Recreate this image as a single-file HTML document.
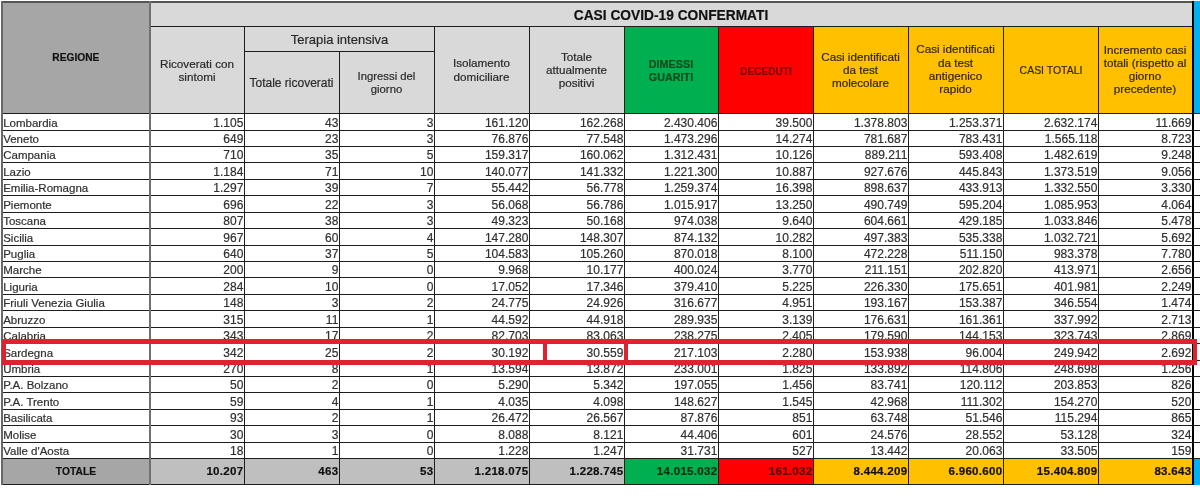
<!DOCTYPE html>
<html><head><meta charset="utf-8"><style>
html,body{margin:0;padding:0;background:#fff;}
body{width:1200px;height:502px;position:relative;overflow:hidden;font-family:"Liberation Sans",sans-serif;filter:blur(0.35px);}
div{position:absolute;}
.t{-webkit-text-stroke:0.2px currentColor;}
</style></head><body>
<div style="left:2px;top:1px;width:148px;height:112px;background:#a6a6a6;"></div>
<div style="left:150px;top:1px;width:1042px;height:112px;background:#d9d9d9;"></div>
<div style="left:624px;top:26px;width:94px;height:87px;background:#00b050;"></div>
<div style="left:718px;top:26px;width:95px;height:87px;background:#ff0000;"></div>
<div style="left:813px;top:26px;width:379px;height:87px;background:#ffc000;"></div>
<div style="left:1194px;top:1px;width:6px;height:113px;background:#00b0f0;"></div>
<div style="left:2px;top:458px;width:148px;height:26px;background:#a6a6a6;"></div>
<div style="left:150px;top:458px;width:474px;height:26px;background:#bfbfbf;"></div>
<div style="left:624px;top:458px;width:94px;height:26px;background:#00b050;"></div>
<div style="left:718px;top:458px;width:95px;height:26px;background:#ff0000;"></div>
<div style="left:813px;top:458px;width:379px;height:26px;background:#ffc000;"></div>
<div style="left:1194px;top:458px;width:6px;height:27px;background:#00b0f0;"></div>
<div style="left:1px;top:1px;width:1191px;height:2px;background:#555;"></div>
<div style="left:150px;top:26px;width:1042px;height:1px;background:#1e1e1e;"></div>
<div style="left:244px;top:51px;width:190px;height:1px;background:#1e1e1e;"></div>
<div style="left:2px;top:113px;width:1198px;height:1px;background:#1e1e1e;"></div>
<div style="left:2px;top:130px;width:1198px;height:1px;background:#1e1e1e;"></div>
<div style="left:2px;top:146px;width:1198px;height:1px;background:#1e1e1e;"></div>
<div style="left:2px;top:162px;width:1198px;height:1px;background:#1e1e1e;"></div>
<div style="left:2px;top:179px;width:1198px;height:1px;background:#1e1e1e;"></div>
<div style="left:2px;top:195px;width:1198px;height:1px;background:#1e1e1e;"></div>
<div style="left:2px;top:212px;width:1198px;height:1px;background:#1e1e1e;"></div>
<div style="left:2px;top:228px;width:1198px;height:1px;background:#1e1e1e;"></div>
<div style="left:2px;top:245px;width:1198px;height:1px;background:#1e1e1e;"></div>
<div style="left:2px;top:261px;width:1198px;height:1px;background:#1e1e1e;"></div>
<div style="left:2px;top:277px;width:1198px;height:1px;background:#1e1e1e;"></div>
<div style="left:2px;top:294px;width:1198px;height:1px;background:#1e1e1e;"></div>
<div style="left:2px;top:310px;width:1198px;height:1px;background:#1e1e1e;"></div>
<div style="left:2px;top:327px;width:1198px;height:1px;background:#1e1e1e;"></div>
<div style="left:2px;top:343px;width:1198px;height:1px;background:#1e1e1e;"></div>
<div style="left:2px;top:360px;width:1198px;height:1px;background:#1e1e1e;"></div>
<div style="left:2px;top:376px;width:1198px;height:1px;background:#1e1e1e;"></div>
<div style="left:2px;top:392px;width:1198px;height:1px;background:#1e1e1e;"></div>
<div style="left:2px;top:409px;width:1198px;height:1px;background:#1e1e1e;"></div>
<div style="left:2px;top:425px;width:1198px;height:1px;background:#1e1e1e;"></div>
<div style="left:2px;top:442px;width:1198px;height:1px;background:#1e1e1e;"></div>
<div style="left:2px;top:458px;width:1198px;height:1px;background:#1e1e1e;"></div>
<div style="left:2px;top:484px;width:1192px;height:1px;background:#1e1e1e;"></div>
<div style="left:1px;top:1px;width:2px;height:484px;background:#686868;"></div>
<div style="left:149px;top:1px;width:2px;height:484px;background:#707070;"></div>
<div style="left:244px;top:26px;width:1px;height:459px;background:#1e1e1e;"></div>
<div style="left:339px;top:51px;width:1px;height:434px;background:#1e1e1e;"></div>
<div style="left:434px;top:26px;width:1px;height:459px;background:#1e1e1e;"></div>
<div style="left:529px;top:26px;width:1px;height:459px;background:#1e1e1e;"></div>
<div style="left:624px;top:26px;width:1px;height:459px;background:#1e1e1e;"></div>
<div style="left:718px;top:26px;width:1px;height:459px;background:#1e1e1e;"></div>
<div style="left:813px;top:26px;width:1px;height:459px;background:#1e1e1e;"></div>
<div style="left:908px;top:26px;width:1px;height:459px;background:#1e1e1e;"></div>
<div style="left:1003px;top:26px;width:1px;height:459px;background:#1e1e1e;"></div>
<div style="left:1098px;top:26px;width:1px;height:459px;background:#1e1e1e;"></div>
<div style="left:1192px;top:1px;width:2px;height:484px;background:#000;"></div>
<div class="t" style="top:5.31px;height:20px;line-height:20px;font-size:14.4px;color:#111;font-weight:bold;left:521.00px;width:300px;text-align:center;white-space:nowrap;transform:scaleX(0.955);">CASI COVID-19 CONFERMATI</div>
<div class="t" style="top:47.67px;height:20px;line-height:20px;font-size:10.2px;color:#111;font-weight:bold;left:-74.20px;width:300px;text-align:center;white-space:nowrap;">REGIONE</div>
<div class="t" style="top:53.95px;height:20px;line-height:20px;font-size:11.7px;color:#2a2a2a;left:47.00px;width:300px;text-align:center;white-space:nowrap;">Ricoverati con</div>
<div class="t" style="top:66.55px;height:20px;line-height:20px;font-size:11.7px;color:#2a2a2a;left:47.00px;width:300px;text-align:center;white-space:nowrap;">sintomi</div>
<div class="t" style="top:29.80px;height:20px;line-height:20px;font-size:13px;color:#2a2a2a;left:189.50px;width:300px;text-align:center;white-space:nowrap;">Terapia intensiva</div>
<div class="t" style="top:73.14px;height:20px;line-height:20px;font-size:12px;color:#2a2a2a;left:141.50px;width:300px;text-align:center;white-space:nowrap;">Totale ricoverati</div>
<div class="t" style="top:65.58px;height:20px;line-height:20px;font-size:11.3px;color:#2a2a2a;left:236.50px;width:300px;text-align:center;white-space:nowrap;">Ingressi del</div>
<div class="t" style="top:78.98px;height:20px;line-height:20px;font-size:11.3px;color:#2a2a2a;left:236.50px;width:300px;text-align:center;white-space:nowrap;">giorno</div>
<div class="t" style="top:53.45px;height:20px;line-height:20px;font-size:11.7px;color:#2a2a2a;left:331.50px;width:300px;text-align:center;white-space:nowrap;">Isolamento</div>
<div class="t" style="top:66.55px;height:20px;line-height:20px;font-size:11.7px;color:#2a2a2a;left:331.50px;width:300px;text-align:center;white-space:nowrap;">domiciliare</div>
<div class="t" style="top:47.15px;height:20px;line-height:20px;font-size:11.7px;color:#2a2a2a;left:426.50px;width:300px;text-align:center;white-space:nowrap;">Totale</div>
<div class="t" style="top:60.25px;height:20px;line-height:20px;font-size:11.7px;color:#2a2a2a;left:426.50px;width:300px;text-align:center;white-space:nowrap;">attualmente</div>
<div class="t" style="top:73.35px;height:20px;line-height:20px;font-size:11.7px;color:#2a2a2a;left:426.50px;width:300px;text-align:center;white-space:nowrap;">positivi</div>
<div class="t" style="top:53.79px;height:20px;line-height:20px;font-size:11px;color:#0e4a1c;font-weight:bold;left:521.00px;width:300px;text-align:center;white-space:nowrap;transform:scaleX(0.98);">DIMESSI</div>
<div class="t" style="top:66.99px;height:20px;line-height:20px;font-size:11px;color:#0e4a1c;font-weight:bold;left:521.00px;width:300px;text-align:center;white-space:nowrap;transform:scaleX(0.98);">GUARITI</div>
<div class="t" style="top:60.99px;height:20px;line-height:20px;font-size:11px;color:#7a0000;font-weight:bold;left:615.50px;width:300px;text-align:center;white-space:nowrap;transform:scaleX(0.92);">DECEDUTI</div>
<div class="t" style="top:47.25px;height:20px;line-height:20px;font-size:11.7px;color:#33270a;left:710.50px;width:300px;text-align:center;white-space:nowrap;">Casi identificati</div>
<div class="t" style="top:60.35px;height:20px;line-height:20px;font-size:11.7px;color:#33270a;left:710.50px;width:300px;text-align:center;white-space:nowrap;">da test</div>
<div class="t" style="top:73.45px;height:20px;line-height:20px;font-size:11.7px;color:#33270a;left:710.50px;width:300px;text-align:center;white-space:nowrap;">molecolare</div>
<div class="t" style="top:39.25px;height:20px;line-height:20px;font-size:11.7px;color:#33270a;left:805.50px;width:300px;text-align:center;white-space:nowrap;">Casi identificati</div>
<div class="t" style="top:52.55px;height:20px;line-height:20px;font-size:11.7px;color:#33270a;left:805.50px;width:300px;text-align:center;white-space:nowrap;">da test</div>
<div class="t" style="top:65.85px;height:20px;line-height:20px;font-size:11.7px;color:#33270a;left:805.50px;width:300px;text-align:center;white-space:nowrap;">antigenico</div>
<div class="t" style="top:79.15px;height:20px;line-height:20px;font-size:11.7px;color:#33270a;left:805.50px;width:300px;text-align:center;white-space:nowrap;">rapido</div>
<div class="t" style="top:60.32px;height:20px;line-height:20px;font-size:11.5px;color:#33270a;left:900.50px;width:300px;text-align:center;white-space:nowrap;transform:scaleX(0.91);">CASI TOTALI</div>
<div class="t" style="top:39.55px;height:20px;line-height:20px;font-size:11.7px;color:#33270a;left:995.00px;width:300px;text-align:center;white-space:nowrap;">Incremento casi</div>
<div class="t" style="top:52.65px;height:20px;line-height:20px;font-size:11.7px;color:#33270a;left:995.00px;width:300px;text-align:center;white-space:nowrap;">totali (rispetto al</div>
<div class="t" style="top:65.75px;height:20px;line-height:20px;font-size:11.7px;color:#33270a;left:995.00px;width:300px;text-align:center;white-space:nowrap;">giorno</div>
<div class="t" style="top:78.85px;height:20px;line-height:20px;font-size:11.7px;color:#33270a;left:995.00px;width:300px;text-align:center;white-space:nowrap;">precedente)</div>
<div class="t" style="top:112.82px;height:20px;line-height:20px;font-size:11.5px;color:#303030;left:3.20px;white-space:nowrap;">Lombardia</div>
<div class="t" style="top:112.74px;height:20px;line-height:20px;font-size:12px;color:#303030;right:956.70px;text-align:right;white-space:nowrap;">1.105</div>
<div class="t" style="top:112.74px;height:20px;line-height:20px;font-size:12px;color:#303030;right:861.70px;text-align:right;white-space:nowrap;">43</div>
<div class="t" style="top:112.74px;height:20px;line-height:20px;font-size:12px;color:#303030;right:766.70px;text-align:right;white-space:nowrap;">3</div>
<div class="t" style="top:112.74px;height:20px;line-height:20px;font-size:12px;color:#303030;right:671.70px;text-align:right;white-space:nowrap;">161.120</div>
<div class="t" style="top:112.74px;height:20px;line-height:20px;font-size:12px;color:#303030;right:576.70px;text-align:right;white-space:nowrap;">162.268</div>
<div class="t" style="top:112.74px;height:20px;line-height:20px;font-size:12px;color:#303030;right:482.70px;text-align:right;white-space:nowrap;">2.430.406</div>
<div class="t" style="top:112.74px;height:20px;line-height:20px;font-size:12px;color:#303030;right:387.70px;text-align:right;white-space:nowrap;">39.500</div>
<div class="t" style="top:112.74px;height:20px;line-height:20px;font-size:12px;color:#303030;right:292.70px;text-align:right;white-space:nowrap;">1.378.803</div>
<div class="t" style="top:112.74px;height:20px;line-height:20px;font-size:12px;color:#303030;right:197.70px;text-align:right;white-space:nowrap;">1.253.371</div>
<div class="t" style="top:112.74px;height:20px;line-height:20px;font-size:12px;color:#303030;right:102.70px;text-align:right;white-space:nowrap;">2.632.174</div>
<div class="t" style="top:112.74px;height:20px;line-height:20px;font-size:12px;color:#303030;right:8.70px;text-align:right;white-space:nowrap;">11.669</div>
<div class="t" style="top:128.82px;height:20px;line-height:20px;font-size:11.5px;color:#303030;left:3.20px;white-space:nowrap;">Veneto</div>
<div class="t" style="top:128.74px;height:20px;line-height:20px;font-size:12px;color:#303030;right:956.70px;text-align:right;white-space:nowrap;">649</div>
<div class="t" style="top:128.74px;height:20px;line-height:20px;font-size:12px;color:#303030;right:861.70px;text-align:right;white-space:nowrap;">23</div>
<div class="t" style="top:128.74px;height:20px;line-height:20px;font-size:12px;color:#303030;right:766.70px;text-align:right;white-space:nowrap;">3</div>
<div class="t" style="top:128.74px;height:20px;line-height:20px;font-size:12px;color:#303030;right:671.70px;text-align:right;white-space:nowrap;">76.876</div>
<div class="t" style="top:128.74px;height:20px;line-height:20px;font-size:12px;color:#303030;right:576.70px;text-align:right;white-space:nowrap;">77.548</div>
<div class="t" style="top:128.74px;height:20px;line-height:20px;font-size:12px;color:#303030;right:482.70px;text-align:right;white-space:nowrap;">1.473.296</div>
<div class="t" style="top:128.74px;height:20px;line-height:20px;font-size:12px;color:#303030;right:387.70px;text-align:right;white-space:nowrap;">14.274</div>
<div class="t" style="top:128.74px;height:20px;line-height:20px;font-size:12px;color:#303030;right:292.70px;text-align:right;white-space:nowrap;">781.687</div>
<div class="t" style="top:128.74px;height:20px;line-height:20px;font-size:12px;color:#303030;right:197.70px;text-align:right;white-space:nowrap;">783.431</div>
<div class="t" style="top:128.74px;height:20px;line-height:20px;font-size:12px;color:#303030;right:102.70px;text-align:right;white-space:nowrap;">1.565.118</div>
<div class="t" style="top:128.74px;height:20px;line-height:20px;font-size:12px;color:#303030;right:8.70px;text-align:right;white-space:nowrap;">8.723</div>
<div class="t" style="top:144.82px;height:20px;line-height:20px;font-size:11.5px;color:#303030;left:3.20px;white-space:nowrap;">Campania</div>
<div class="t" style="top:144.74px;height:20px;line-height:20px;font-size:12px;color:#303030;right:956.70px;text-align:right;white-space:nowrap;">710</div>
<div class="t" style="top:144.74px;height:20px;line-height:20px;font-size:12px;color:#303030;right:861.70px;text-align:right;white-space:nowrap;">35</div>
<div class="t" style="top:144.74px;height:20px;line-height:20px;font-size:12px;color:#303030;right:766.70px;text-align:right;white-space:nowrap;">5</div>
<div class="t" style="top:144.74px;height:20px;line-height:20px;font-size:12px;color:#303030;right:671.70px;text-align:right;white-space:nowrap;">159.317</div>
<div class="t" style="top:144.74px;height:20px;line-height:20px;font-size:12px;color:#303030;right:576.70px;text-align:right;white-space:nowrap;">160.062</div>
<div class="t" style="top:144.74px;height:20px;line-height:20px;font-size:12px;color:#303030;right:482.70px;text-align:right;white-space:nowrap;">1.312.431</div>
<div class="t" style="top:144.74px;height:20px;line-height:20px;font-size:12px;color:#303030;right:387.70px;text-align:right;white-space:nowrap;">10.126</div>
<div class="t" style="top:144.74px;height:20px;line-height:20px;font-size:12px;color:#303030;right:292.70px;text-align:right;white-space:nowrap;">889.211</div>
<div class="t" style="top:144.74px;height:20px;line-height:20px;font-size:12px;color:#303030;right:197.70px;text-align:right;white-space:nowrap;">593.408</div>
<div class="t" style="top:144.74px;height:20px;line-height:20px;font-size:12px;color:#303030;right:102.70px;text-align:right;white-space:nowrap;">1.482.619</div>
<div class="t" style="top:144.74px;height:20px;line-height:20px;font-size:12px;color:#303030;right:8.70px;text-align:right;white-space:nowrap;">9.248</div>
<div class="t" style="top:161.82px;height:20px;line-height:20px;font-size:11.5px;color:#303030;left:3.20px;white-space:nowrap;">Lazio</div>
<div class="t" style="top:161.74px;height:20px;line-height:20px;font-size:12px;color:#303030;right:956.70px;text-align:right;white-space:nowrap;">1.184</div>
<div class="t" style="top:161.74px;height:20px;line-height:20px;font-size:12px;color:#303030;right:861.70px;text-align:right;white-space:nowrap;">71</div>
<div class="t" style="top:161.74px;height:20px;line-height:20px;font-size:12px;color:#303030;right:766.70px;text-align:right;white-space:nowrap;">10</div>
<div class="t" style="top:161.74px;height:20px;line-height:20px;font-size:12px;color:#303030;right:671.70px;text-align:right;white-space:nowrap;">140.077</div>
<div class="t" style="top:161.74px;height:20px;line-height:20px;font-size:12px;color:#303030;right:576.70px;text-align:right;white-space:nowrap;">141.332</div>
<div class="t" style="top:161.74px;height:20px;line-height:20px;font-size:12px;color:#303030;right:482.70px;text-align:right;white-space:nowrap;">1.221.300</div>
<div class="t" style="top:161.74px;height:20px;line-height:20px;font-size:12px;color:#303030;right:387.70px;text-align:right;white-space:nowrap;">10.887</div>
<div class="t" style="top:161.74px;height:20px;line-height:20px;font-size:12px;color:#303030;right:292.70px;text-align:right;white-space:nowrap;">927.676</div>
<div class="t" style="top:161.74px;height:20px;line-height:20px;font-size:12px;color:#303030;right:197.70px;text-align:right;white-space:nowrap;">445.843</div>
<div class="t" style="top:161.74px;height:20px;line-height:20px;font-size:12px;color:#303030;right:102.70px;text-align:right;white-space:nowrap;">1.373.519</div>
<div class="t" style="top:161.74px;height:20px;line-height:20px;font-size:12px;color:#303030;right:8.70px;text-align:right;white-space:nowrap;">9.056</div>
<div class="t" style="top:177.82px;height:20px;line-height:20px;font-size:11.5px;color:#303030;left:3.20px;white-space:nowrap;">Emilia-Romagna</div>
<div class="t" style="top:177.74px;height:20px;line-height:20px;font-size:12px;color:#303030;right:956.70px;text-align:right;white-space:nowrap;">1.297</div>
<div class="t" style="top:177.74px;height:20px;line-height:20px;font-size:12px;color:#303030;right:861.70px;text-align:right;white-space:nowrap;">39</div>
<div class="t" style="top:177.74px;height:20px;line-height:20px;font-size:12px;color:#303030;right:766.70px;text-align:right;white-space:nowrap;">7</div>
<div class="t" style="top:177.74px;height:20px;line-height:20px;font-size:12px;color:#303030;right:671.70px;text-align:right;white-space:nowrap;">55.442</div>
<div class="t" style="top:177.74px;height:20px;line-height:20px;font-size:12px;color:#303030;right:576.70px;text-align:right;white-space:nowrap;">56.778</div>
<div class="t" style="top:177.74px;height:20px;line-height:20px;font-size:12px;color:#303030;right:482.70px;text-align:right;white-space:nowrap;">1.259.374</div>
<div class="t" style="top:177.74px;height:20px;line-height:20px;font-size:12px;color:#303030;right:387.70px;text-align:right;white-space:nowrap;">16.398</div>
<div class="t" style="top:177.74px;height:20px;line-height:20px;font-size:12px;color:#303030;right:292.70px;text-align:right;white-space:nowrap;">898.637</div>
<div class="t" style="top:177.74px;height:20px;line-height:20px;font-size:12px;color:#303030;right:197.70px;text-align:right;white-space:nowrap;">433.913</div>
<div class="t" style="top:177.74px;height:20px;line-height:20px;font-size:12px;color:#303030;right:102.70px;text-align:right;white-space:nowrap;">1.332.550</div>
<div class="t" style="top:177.74px;height:20px;line-height:20px;font-size:12px;color:#303030;right:8.70px;text-align:right;white-space:nowrap;">3.330</div>
<div class="t" style="top:194.82px;height:20px;line-height:20px;font-size:11.5px;color:#303030;left:3.20px;white-space:nowrap;">Piemonte</div>
<div class="t" style="top:194.74px;height:20px;line-height:20px;font-size:12px;color:#303030;right:956.70px;text-align:right;white-space:nowrap;">696</div>
<div class="t" style="top:194.74px;height:20px;line-height:20px;font-size:12px;color:#303030;right:861.70px;text-align:right;white-space:nowrap;">22</div>
<div class="t" style="top:194.74px;height:20px;line-height:20px;font-size:12px;color:#303030;right:766.70px;text-align:right;white-space:nowrap;">3</div>
<div class="t" style="top:194.74px;height:20px;line-height:20px;font-size:12px;color:#303030;right:671.70px;text-align:right;white-space:nowrap;">56.068</div>
<div class="t" style="top:194.74px;height:20px;line-height:20px;font-size:12px;color:#303030;right:576.70px;text-align:right;white-space:nowrap;">56.786</div>
<div class="t" style="top:194.74px;height:20px;line-height:20px;font-size:12px;color:#303030;right:482.70px;text-align:right;white-space:nowrap;">1.015.917</div>
<div class="t" style="top:194.74px;height:20px;line-height:20px;font-size:12px;color:#303030;right:387.70px;text-align:right;white-space:nowrap;">13.250</div>
<div class="t" style="top:194.74px;height:20px;line-height:20px;font-size:12px;color:#303030;right:292.70px;text-align:right;white-space:nowrap;">490.749</div>
<div class="t" style="top:194.74px;height:20px;line-height:20px;font-size:12px;color:#303030;right:197.70px;text-align:right;white-space:nowrap;">595.204</div>
<div class="t" style="top:194.74px;height:20px;line-height:20px;font-size:12px;color:#303030;right:102.70px;text-align:right;white-space:nowrap;">1.085.953</div>
<div class="t" style="top:194.74px;height:20px;line-height:20px;font-size:12px;color:#303030;right:8.70px;text-align:right;white-space:nowrap;">4.064</div>
<div class="t" style="top:210.82px;height:20px;line-height:20px;font-size:11.5px;color:#303030;left:3.20px;white-space:nowrap;">Toscana</div>
<div class="t" style="top:210.74px;height:20px;line-height:20px;font-size:12px;color:#303030;right:956.70px;text-align:right;white-space:nowrap;">807</div>
<div class="t" style="top:210.74px;height:20px;line-height:20px;font-size:12px;color:#303030;right:861.70px;text-align:right;white-space:nowrap;">38</div>
<div class="t" style="top:210.74px;height:20px;line-height:20px;font-size:12px;color:#303030;right:766.70px;text-align:right;white-space:nowrap;">3</div>
<div class="t" style="top:210.74px;height:20px;line-height:20px;font-size:12px;color:#303030;right:671.70px;text-align:right;white-space:nowrap;">49.323</div>
<div class="t" style="top:210.74px;height:20px;line-height:20px;font-size:12px;color:#303030;right:576.70px;text-align:right;white-space:nowrap;">50.168</div>
<div class="t" style="top:210.74px;height:20px;line-height:20px;font-size:12px;color:#303030;right:482.70px;text-align:right;white-space:nowrap;">974.038</div>
<div class="t" style="top:210.74px;height:20px;line-height:20px;font-size:12px;color:#303030;right:387.70px;text-align:right;white-space:nowrap;">9.640</div>
<div class="t" style="top:210.74px;height:20px;line-height:20px;font-size:12px;color:#303030;right:292.70px;text-align:right;white-space:nowrap;">604.661</div>
<div class="t" style="top:210.74px;height:20px;line-height:20px;font-size:12px;color:#303030;right:197.70px;text-align:right;white-space:nowrap;">429.185</div>
<div class="t" style="top:210.74px;height:20px;line-height:20px;font-size:12px;color:#303030;right:102.70px;text-align:right;white-space:nowrap;">1.033.846</div>
<div class="t" style="top:210.74px;height:20px;line-height:20px;font-size:12px;color:#303030;right:8.70px;text-align:right;white-space:nowrap;">5.478</div>
<div class="t" style="top:227.82px;height:20px;line-height:20px;font-size:11.5px;color:#303030;left:3.20px;white-space:nowrap;">Sicilia</div>
<div class="t" style="top:227.74px;height:20px;line-height:20px;font-size:12px;color:#303030;right:956.70px;text-align:right;white-space:nowrap;">967</div>
<div class="t" style="top:227.74px;height:20px;line-height:20px;font-size:12px;color:#303030;right:861.70px;text-align:right;white-space:nowrap;">60</div>
<div class="t" style="top:227.74px;height:20px;line-height:20px;font-size:12px;color:#303030;right:766.70px;text-align:right;white-space:nowrap;">4</div>
<div class="t" style="top:227.74px;height:20px;line-height:20px;font-size:12px;color:#303030;right:671.70px;text-align:right;white-space:nowrap;">147.280</div>
<div class="t" style="top:227.74px;height:20px;line-height:20px;font-size:12px;color:#303030;right:576.70px;text-align:right;white-space:nowrap;">148.307</div>
<div class="t" style="top:227.74px;height:20px;line-height:20px;font-size:12px;color:#303030;right:482.70px;text-align:right;white-space:nowrap;">874.132</div>
<div class="t" style="top:227.74px;height:20px;line-height:20px;font-size:12px;color:#303030;right:387.70px;text-align:right;white-space:nowrap;">10.282</div>
<div class="t" style="top:227.74px;height:20px;line-height:20px;font-size:12px;color:#303030;right:292.70px;text-align:right;white-space:nowrap;">497.383</div>
<div class="t" style="top:227.74px;height:20px;line-height:20px;font-size:12px;color:#303030;right:197.70px;text-align:right;white-space:nowrap;">535.338</div>
<div class="t" style="top:227.74px;height:20px;line-height:20px;font-size:12px;color:#303030;right:102.70px;text-align:right;white-space:nowrap;">1.032.721</div>
<div class="t" style="top:227.74px;height:20px;line-height:20px;font-size:12px;color:#303030;right:8.70px;text-align:right;white-space:nowrap;">5.692</div>
<div class="t" style="top:243.82px;height:20px;line-height:20px;font-size:11.5px;color:#303030;left:3.20px;white-space:nowrap;">Puglia</div>
<div class="t" style="top:243.74px;height:20px;line-height:20px;font-size:12px;color:#303030;right:956.70px;text-align:right;white-space:nowrap;">640</div>
<div class="t" style="top:243.74px;height:20px;line-height:20px;font-size:12px;color:#303030;right:861.70px;text-align:right;white-space:nowrap;">37</div>
<div class="t" style="top:243.74px;height:20px;line-height:20px;font-size:12px;color:#303030;right:766.70px;text-align:right;white-space:nowrap;">5</div>
<div class="t" style="top:243.74px;height:20px;line-height:20px;font-size:12px;color:#303030;right:671.70px;text-align:right;white-space:nowrap;">104.583</div>
<div class="t" style="top:243.74px;height:20px;line-height:20px;font-size:12px;color:#303030;right:576.70px;text-align:right;white-space:nowrap;">105.260</div>
<div class="t" style="top:243.74px;height:20px;line-height:20px;font-size:12px;color:#303030;right:482.70px;text-align:right;white-space:nowrap;">870.018</div>
<div class="t" style="top:243.74px;height:20px;line-height:20px;font-size:12px;color:#303030;right:387.70px;text-align:right;white-space:nowrap;">8.100</div>
<div class="t" style="top:243.74px;height:20px;line-height:20px;font-size:12px;color:#303030;right:292.70px;text-align:right;white-space:nowrap;">472.228</div>
<div class="t" style="top:243.74px;height:20px;line-height:20px;font-size:12px;color:#303030;right:197.70px;text-align:right;white-space:nowrap;">511.150</div>
<div class="t" style="top:243.74px;height:20px;line-height:20px;font-size:12px;color:#303030;right:102.70px;text-align:right;white-space:nowrap;">983.378</div>
<div class="t" style="top:243.74px;height:20px;line-height:20px;font-size:12px;color:#303030;right:8.70px;text-align:right;white-space:nowrap;">7.780</div>
<div class="t" style="top:259.82px;height:20px;line-height:20px;font-size:11.5px;color:#303030;left:3.20px;white-space:nowrap;">Marche</div>
<div class="t" style="top:259.74px;height:20px;line-height:20px;font-size:12px;color:#303030;right:956.70px;text-align:right;white-space:nowrap;">200</div>
<div class="t" style="top:259.74px;height:20px;line-height:20px;font-size:12px;color:#303030;right:861.70px;text-align:right;white-space:nowrap;">9</div>
<div class="t" style="top:259.74px;height:20px;line-height:20px;font-size:12px;color:#303030;right:766.70px;text-align:right;white-space:nowrap;">0</div>
<div class="t" style="top:259.74px;height:20px;line-height:20px;font-size:12px;color:#303030;right:671.70px;text-align:right;white-space:nowrap;">9.968</div>
<div class="t" style="top:259.74px;height:20px;line-height:20px;font-size:12px;color:#303030;right:576.70px;text-align:right;white-space:nowrap;">10.177</div>
<div class="t" style="top:259.74px;height:20px;line-height:20px;font-size:12px;color:#303030;right:482.70px;text-align:right;white-space:nowrap;">400.024</div>
<div class="t" style="top:259.74px;height:20px;line-height:20px;font-size:12px;color:#303030;right:387.70px;text-align:right;white-space:nowrap;">3.770</div>
<div class="t" style="top:259.74px;height:20px;line-height:20px;font-size:12px;color:#303030;right:292.70px;text-align:right;white-space:nowrap;">211.151</div>
<div class="t" style="top:259.74px;height:20px;line-height:20px;font-size:12px;color:#303030;right:197.70px;text-align:right;white-space:nowrap;">202.820</div>
<div class="t" style="top:259.74px;height:20px;line-height:20px;font-size:12px;color:#303030;right:102.70px;text-align:right;white-space:nowrap;">413.971</div>
<div class="t" style="top:259.74px;height:20px;line-height:20px;font-size:12px;color:#303030;right:8.70px;text-align:right;white-space:nowrap;">2.656</div>
<div class="t" style="top:276.82px;height:20px;line-height:20px;font-size:11.5px;color:#303030;left:3.20px;white-space:nowrap;">Liguria</div>
<div class="t" style="top:276.74px;height:20px;line-height:20px;font-size:12px;color:#303030;right:956.70px;text-align:right;white-space:nowrap;">284</div>
<div class="t" style="top:276.74px;height:20px;line-height:20px;font-size:12px;color:#303030;right:861.70px;text-align:right;white-space:nowrap;">10</div>
<div class="t" style="top:276.74px;height:20px;line-height:20px;font-size:12px;color:#303030;right:766.70px;text-align:right;white-space:nowrap;">0</div>
<div class="t" style="top:276.74px;height:20px;line-height:20px;font-size:12px;color:#303030;right:671.70px;text-align:right;white-space:nowrap;">17.052</div>
<div class="t" style="top:276.74px;height:20px;line-height:20px;font-size:12px;color:#303030;right:576.70px;text-align:right;white-space:nowrap;">17.346</div>
<div class="t" style="top:276.74px;height:20px;line-height:20px;font-size:12px;color:#303030;right:482.70px;text-align:right;white-space:nowrap;">379.410</div>
<div class="t" style="top:276.74px;height:20px;line-height:20px;font-size:12px;color:#303030;right:387.70px;text-align:right;white-space:nowrap;">5.225</div>
<div class="t" style="top:276.74px;height:20px;line-height:20px;font-size:12px;color:#303030;right:292.70px;text-align:right;white-space:nowrap;">226.330</div>
<div class="t" style="top:276.74px;height:20px;line-height:20px;font-size:12px;color:#303030;right:197.70px;text-align:right;white-space:nowrap;">175.651</div>
<div class="t" style="top:276.74px;height:20px;line-height:20px;font-size:12px;color:#303030;right:102.70px;text-align:right;white-space:nowrap;">401.981</div>
<div class="t" style="top:276.74px;height:20px;line-height:20px;font-size:12px;color:#303030;right:8.70px;text-align:right;white-space:nowrap;">2.249</div>
<div class="t" style="top:292.82px;height:20px;line-height:20px;font-size:11.5px;color:#303030;left:3.20px;white-space:nowrap;">Friuli Venezia Giulia</div>
<div class="t" style="top:292.74px;height:20px;line-height:20px;font-size:12px;color:#303030;right:956.70px;text-align:right;white-space:nowrap;">148</div>
<div class="t" style="top:292.74px;height:20px;line-height:20px;font-size:12px;color:#303030;right:861.70px;text-align:right;white-space:nowrap;">3</div>
<div class="t" style="top:292.74px;height:20px;line-height:20px;font-size:12px;color:#303030;right:766.70px;text-align:right;white-space:nowrap;">2</div>
<div class="t" style="top:292.74px;height:20px;line-height:20px;font-size:12px;color:#303030;right:671.70px;text-align:right;white-space:nowrap;">24.775</div>
<div class="t" style="top:292.74px;height:20px;line-height:20px;font-size:12px;color:#303030;right:576.70px;text-align:right;white-space:nowrap;">24.926</div>
<div class="t" style="top:292.74px;height:20px;line-height:20px;font-size:12px;color:#303030;right:482.70px;text-align:right;white-space:nowrap;">316.677</div>
<div class="t" style="top:292.74px;height:20px;line-height:20px;font-size:12px;color:#303030;right:387.70px;text-align:right;white-space:nowrap;">4.951</div>
<div class="t" style="top:292.74px;height:20px;line-height:20px;font-size:12px;color:#303030;right:292.70px;text-align:right;white-space:nowrap;">193.167</div>
<div class="t" style="top:292.74px;height:20px;line-height:20px;font-size:12px;color:#303030;right:197.70px;text-align:right;white-space:nowrap;">153.387</div>
<div class="t" style="top:292.74px;height:20px;line-height:20px;font-size:12px;color:#303030;right:102.70px;text-align:right;white-space:nowrap;">346.554</div>
<div class="t" style="top:292.74px;height:20px;line-height:20px;font-size:12px;color:#303030;right:8.70px;text-align:right;white-space:nowrap;">1.474</div>
<div class="t" style="top:309.82px;height:20px;line-height:20px;font-size:11.5px;color:#303030;left:3.20px;white-space:nowrap;">Abruzzo</div>
<div class="t" style="top:309.74px;height:20px;line-height:20px;font-size:12px;color:#303030;right:956.70px;text-align:right;white-space:nowrap;">315</div>
<div class="t" style="top:309.74px;height:20px;line-height:20px;font-size:12px;color:#303030;right:861.70px;text-align:right;white-space:nowrap;">11</div>
<div class="t" style="top:309.74px;height:20px;line-height:20px;font-size:12px;color:#303030;right:766.70px;text-align:right;white-space:nowrap;">1</div>
<div class="t" style="top:309.74px;height:20px;line-height:20px;font-size:12px;color:#303030;right:671.70px;text-align:right;white-space:nowrap;">44.592</div>
<div class="t" style="top:309.74px;height:20px;line-height:20px;font-size:12px;color:#303030;right:576.70px;text-align:right;white-space:nowrap;">44.918</div>
<div class="t" style="top:309.74px;height:20px;line-height:20px;font-size:12px;color:#303030;right:482.70px;text-align:right;white-space:nowrap;">289.935</div>
<div class="t" style="top:309.74px;height:20px;line-height:20px;font-size:12px;color:#303030;right:387.70px;text-align:right;white-space:nowrap;">3.139</div>
<div class="t" style="top:309.74px;height:20px;line-height:20px;font-size:12px;color:#303030;right:292.70px;text-align:right;white-space:nowrap;">176.631</div>
<div class="t" style="top:309.74px;height:20px;line-height:20px;font-size:12px;color:#303030;right:197.70px;text-align:right;white-space:nowrap;">161.361</div>
<div class="t" style="top:309.74px;height:20px;line-height:20px;font-size:12px;color:#303030;right:102.70px;text-align:right;white-space:nowrap;">337.992</div>
<div class="t" style="top:309.74px;height:20px;line-height:20px;font-size:12px;color:#303030;right:8.70px;text-align:right;white-space:nowrap;">2.713</div>
<div class="t" style="top:325.82px;height:20px;line-height:20px;font-size:11.5px;color:#303030;left:3.20px;white-space:nowrap;">Calabria</div>
<div class="t" style="top:325.74px;height:20px;line-height:20px;font-size:12px;color:#303030;right:956.70px;text-align:right;white-space:nowrap;">343</div>
<div class="t" style="top:325.74px;height:20px;line-height:20px;font-size:12px;color:#303030;right:861.70px;text-align:right;white-space:nowrap;">17</div>
<div class="t" style="top:325.74px;height:20px;line-height:20px;font-size:12px;color:#303030;right:766.70px;text-align:right;white-space:nowrap;">2</div>
<div class="t" style="top:325.74px;height:20px;line-height:20px;font-size:12px;color:#303030;right:671.70px;text-align:right;white-space:nowrap;">82.703</div>
<div class="t" style="top:325.74px;height:20px;line-height:20px;font-size:12px;color:#303030;right:576.70px;text-align:right;white-space:nowrap;">83.063</div>
<div class="t" style="top:325.74px;height:20px;line-height:20px;font-size:12px;color:#303030;right:482.70px;text-align:right;white-space:nowrap;">238.275</div>
<div class="t" style="top:325.74px;height:20px;line-height:20px;font-size:12px;color:#303030;right:387.70px;text-align:right;white-space:nowrap;">2.405</div>
<div class="t" style="top:325.74px;height:20px;line-height:20px;font-size:12px;color:#303030;right:292.70px;text-align:right;white-space:nowrap;">179.590</div>
<div class="t" style="top:325.74px;height:20px;line-height:20px;font-size:12px;color:#303030;right:197.70px;text-align:right;white-space:nowrap;">144.153</div>
<div class="t" style="top:325.74px;height:20px;line-height:20px;font-size:12px;color:#303030;right:102.70px;text-align:right;white-space:nowrap;">323.743</div>
<div class="t" style="top:325.74px;height:20px;line-height:20px;font-size:12px;color:#303030;right:8.70px;text-align:right;white-space:nowrap;">2.869</div>
<div class="t" style="top:342.82px;height:20px;line-height:20px;font-size:11.5px;color:#303030;left:3.20px;white-space:nowrap;">Sardegna</div>
<div class="t" style="top:342.74px;height:20px;line-height:20px;font-size:12px;color:#303030;right:956.70px;text-align:right;white-space:nowrap;">342</div>
<div class="t" style="top:342.74px;height:20px;line-height:20px;font-size:12px;color:#303030;right:861.70px;text-align:right;white-space:nowrap;">25</div>
<div class="t" style="top:342.74px;height:20px;line-height:20px;font-size:12px;color:#303030;right:766.70px;text-align:right;white-space:nowrap;">2</div>
<div class="t" style="top:342.74px;height:20px;line-height:20px;font-size:12px;color:#303030;right:671.70px;text-align:right;white-space:nowrap;">30.192</div>
<div class="t" style="top:342.74px;height:20px;line-height:20px;font-size:12px;color:#303030;right:576.70px;text-align:right;white-space:nowrap;">30.559</div>
<div class="t" style="top:342.74px;height:20px;line-height:20px;font-size:12px;color:#303030;right:482.70px;text-align:right;white-space:nowrap;">217.103</div>
<div class="t" style="top:342.74px;height:20px;line-height:20px;font-size:12px;color:#303030;right:387.70px;text-align:right;white-space:nowrap;">2.280</div>
<div class="t" style="top:342.74px;height:20px;line-height:20px;font-size:12px;color:#303030;right:292.70px;text-align:right;white-space:nowrap;">153.938</div>
<div class="t" style="top:342.74px;height:20px;line-height:20px;font-size:12px;color:#303030;right:197.70px;text-align:right;white-space:nowrap;">96.004</div>
<div class="t" style="top:342.74px;height:20px;line-height:20px;font-size:12px;color:#303030;right:102.70px;text-align:right;white-space:nowrap;">249.942</div>
<div class="t" style="top:342.74px;height:20px;line-height:20px;font-size:12px;color:#303030;right:8.70px;text-align:right;white-space:nowrap;">2.692</div>
<div class="t" style="top:358.82px;height:20px;line-height:20px;font-size:11.5px;color:#303030;left:3.20px;white-space:nowrap;">Umbria</div>
<div class="t" style="top:358.74px;height:20px;line-height:20px;font-size:12px;color:#303030;right:956.70px;text-align:right;white-space:nowrap;">270</div>
<div class="t" style="top:358.74px;height:20px;line-height:20px;font-size:12px;color:#303030;right:861.70px;text-align:right;white-space:nowrap;">8</div>
<div class="t" style="top:358.74px;height:20px;line-height:20px;font-size:12px;color:#303030;right:766.70px;text-align:right;white-space:nowrap;">1</div>
<div class="t" style="top:358.74px;height:20px;line-height:20px;font-size:12px;color:#303030;right:671.70px;text-align:right;white-space:nowrap;">13.594</div>
<div class="t" style="top:358.74px;height:20px;line-height:20px;font-size:12px;color:#303030;right:576.70px;text-align:right;white-space:nowrap;">13.872</div>
<div class="t" style="top:358.74px;height:20px;line-height:20px;font-size:12px;color:#303030;right:482.70px;text-align:right;white-space:nowrap;">233.001</div>
<div class="t" style="top:358.74px;height:20px;line-height:20px;font-size:12px;color:#303030;right:387.70px;text-align:right;white-space:nowrap;">1.825</div>
<div class="t" style="top:358.74px;height:20px;line-height:20px;font-size:12px;color:#303030;right:292.70px;text-align:right;white-space:nowrap;">133.892</div>
<div class="t" style="top:358.74px;height:20px;line-height:20px;font-size:12px;color:#303030;right:197.70px;text-align:right;white-space:nowrap;">114.806</div>
<div class="t" style="top:358.74px;height:20px;line-height:20px;font-size:12px;color:#303030;right:102.70px;text-align:right;white-space:nowrap;">248.698</div>
<div class="t" style="top:358.74px;height:20px;line-height:20px;font-size:12px;color:#303030;right:8.70px;text-align:right;white-space:nowrap;">1.256</div>
<div class="t" style="top:374.82px;height:20px;line-height:20px;font-size:11.5px;color:#303030;left:3.20px;white-space:nowrap;">P.A. Bolzano</div>
<div class="t" style="top:374.74px;height:20px;line-height:20px;font-size:12px;color:#303030;right:956.70px;text-align:right;white-space:nowrap;">50</div>
<div class="t" style="top:374.74px;height:20px;line-height:20px;font-size:12px;color:#303030;right:861.70px;text-align:right;white-space:nowrap;">2</div>
<div class="t" style="top:374.74px;height:20px;line-height:20px;font-size:12px;color:#303030;right:766.70px;text-align:right;white-space:nowrap;">0</div>
<div class="t" style="top:374.74px;height:20px;line-height:20px;font-size:12px;color:#303030;right:671.70px;text-align:right;white-space:nowrap;">5.290</div>
<div class="t" style="top:374.74px;height:20px;line-height:20px;font-size:12px;color:#303030;right:576.70px;text-align:right;white-space:nowrap;">5.342</div>
<div class="t" style="top:374.74px;height:20px;line-height:20px;font-size:12px;color:#303030;right:482.70px;text-align:right;white-space:nowrap;">197.055</div>
<div class="t" style="top:374.74px;height:20px;line-height:20px;font-size:12px;color:#303030;right:387.70px;text-align:right;white-space:nowrap;">1.456</div>
<div class="t" style="top:374.74px;height:20px;line-height:20px;font-size:12px;color:#303030;right:292.70px;text-align:right;white-space:nowrap;">83.741</div>
<div class="t" style="top:374.74px;height:20px;line-height:20px;font-size:12px;color:#303030;right:197.70px;text-align:right;white-space:nowrap;">120.112</div>
<div class="t" style="top:374.74px;height:20px;line-height:20px;font-size:12px;color:#303030;right:102.70px;text-align:right;white-space:nowrap;">203.853</div>
<div class="t" style="top:374.74px;height:20px;line-height:20px;font-size:12px;color:#303030;right:8.70px;text-align:right;white-space:nowrap;">826</div>
<div class="t" style="top:391.82px;height:20px;line-height:20px;font-size:11.5px;color:#303030;left:3.20px;white-space:nowrap;">P.A. Trento</div>
<div class="t" style="top:391.74px;height:20px;line-height:20px;font-size:12px;color:#303030;right:956.70px;text-align:right;white-space:nowrap;">59</div>
<div class="t" style="top:391.74px;height:20px;line-height:20px;font-size:12px;color:#303030;right:861.70px;text-align:right;white-space:nowrap;">4</div>
<div class="t" style="top:391.74px;height:20px;line-height:20px;font-size:12px;color:#303030;right:766.70px;text-align:right;white-space:nowrap;">1</div>
<div class="t" style="top:391.74px;height:20px;line-height:20px;font-size:12px;color:#303030;right:671.70px;text-align:right;white-space:nowrap;">4.035</div>
<div class="t" style="top:391.74px;height:20px;line-height:20px;font-size:12px;color:#303030;right:576.70px;text-align:right;white-space:nowrap;">4.098</div>
<div class="t" style="top:391.74px;height:20px;line-height:20px;font-size:12px;color:#303030;right:482.70px;text-align:right;white-space:nowrap;">148.627</div>
<div class="t" style="top:391.74px;height:20px;line-height:20px;font-size:12px;color:#303030;right:387.70px;text-align:right;white-space:nowrap;">1.545</div>
<div class="t" style="top:391.74px;height:20px;line-height:20px;font-size:12px;color:#303030;right:292.70px;text-align:right;white-space:nowrap;">42.968</div>
<div class="t" style="top:391.74px;height:20px;line-height:20px;font-size:12px;color:#303030;right:197.70px;text-align:right;white-space:nowrap;">111.302</div>
<div class="t" style="top:391.74px;height:20px;line-height:20px;font-size:12px;color:#303030;right:102.70px;text-align:right;white-space:nowrap;">154.270</div>
<div class="t" style="top:391.74px;height:20px;line-height:20px;font-size:12px;color:#303030;right:8.70px;text-align:right;white-space:nowrap;">520</div>
<div class="t" style="top:407.82px;height:20px;line-height:20px;font-size:11.5px;color:#303030;left:3.20px;white-space:nowrap;">Basilicata</div>
<div class="t" style="top:407.74px;height:20px;line-height:20px;font-size:12px;color:#303030;right:956.70px;text-align:right;white-space:nowrap;">93</div>
<div class="t" style="top:407.74px;height:20px;line-height:20px;font-size:12px;color:#303030;right:861.70px;text-align:right;white-space:nowrap;">2</div>
<div class="t" style="top:407.74px;height:20px;line-height:20px;font-size:12px;color:#303030;right:766.70px;text-align:right;white-space:nowrap;">1</div>
<div class="t" style="top:407.74px;height:20px;line-height:20px;font-size:12px;color:#303030;right:671.70px;text-align:right;white-space:nowrap;">26.472</div>
<div class="t" style="top:407.74px;height:20px;line-height:20px;font-size:12px;color:#303030;right:576.70px;text-align:right;white-space:nowrap;">26.567</div>
<div class="t" style="top:407.74px;height:20px;line-height:20px;font-size:12px;color:#303030;right:482.70px;text-align:right;white-space:nowrap;">87.876</div>
<div class="t" style="top:407.74px;height:20px;line-height:20px;font-size:12px;color:#303030;right:387.70px;text-align:right;white-space:nowrap;">851</div>
<div class="t" style="top:407.74px;height:20px;line-height:20px;font-size:12px;color:#303030;right:292.70px;text-align:right;white-space:nowrap;">63.748</div>
<div class="t" style="top:407.74px;height:20px;line-height:20px;font-size:12px;color:#303030;right:197.70px;text-align:right;white-space:nowrap;">51.546</div>
<div class="t" style="top:407.74px;height:20px;line-height:20px;font-size:12px;color:#303030;right:102.70px;text-align:right;white-space:nowrap;">115.294</div>
<div class="t" style="top:407.74px;height:20px;line-height:20px;font-size:12px;color:#303030;right:8.70px;text-align:right;white-space:nowrap;">865</div>
<div class="t" style="top:424.82px;height:20px;line-height:20px;font-size:11.5px;color:#303030;left:3.20px;white-space:nowrap;">Molise</div>
<div class="t" style="top:424.74px;height:20px;line-height:20px;font-size:12px;color:#303030;right:956.70px;text-align:right;white-space:nowrap;">30</div>
<div class="t" style="top:424.74px;height:20px;line-height:20px;font-size:12px;color:#303030;right:861.70px;text-align:right;white-space:nowrap;">3</div>
<div class="t" style="top:424.74px;height:20px;line-height:20px;font-size:12px;color:#303030;right:766.70px;text-align:right;white-space:nowrap;">0</div>
<div class="t" style="top:424.74px;height:20px;line-height:20px;font-size:12px;color:#303030;right:671.70px;text-align:right;white-space:nowrap;">8.088</div>
<div class="t" style="top:424.74px;height:20px;line-height:20px;font-size:12px;color:#303030;right:576.70px;text-align:right;white-space:nowrap;">8.121</div>
<div class="t" style="top:424.74px;height:20px;line-height:20px;font-size:12px;color:#303030;right:482.70px;text-align:right;white-space:nowrap;">44.406</div>
<div class="t" style="top:424.74px;height:20px;line-height:20px;font-size:12px;color:#303030;right:387.70px;text-align:right;white-space:nowrap;">601</div>
<div class="t" style="top:424.74px;height:20px;line-height:20px;font-size:12px;color:#303030;right:292.70px;text-align:right;white-space:nowrap;">24.576</div>
<div class="t" style="top:424.74px;height:20px;line-height:20px;font-size:12px;color:#303030;right:197.70px;text-align:right;white-space:nowrap;">28.552</div>
<div class="t" style="top:424.74px;height:20px;line-height:20px;font-size:12px;color:#303030;right:102.70px;text-align:right;white-space:nowrap;">53.128</div>
<div class="t" style="top:424.74px;height:20px;line-height:20px;font-size:12px;color:#303030;right:8.70px;text-align:right;white-space:nowrap;">324</div>
<div class="t" style="top:440.82px;height:20px;line-height:20px;font-size:11.5px;color:#303030;left:3.20px;white-space:nowrap;">Valle d'Aosta</div>
<div class="t" style="top:440.74px;height:20px;line-height:20px;font-size:12px;color:#303030;right:956.70px;text-align:right;white-space:nowrap;">18</div>
<div class="t" style="top:440.74px;height:20px;line-height:20px;font-size:12px;color:#303030;right:861.70px;text-align:right;white-space:nowrap;">1</div>
<div class="t" style="top:440.74px;height:20px;line-height:20px;font-size:12px;color:#303030;right:766.70px;text-align:right;white-space:nowrap;">0</div>
<div class="t" style="top:440.74px;height:20px;line-height:20px;font-size:12px;color:#303030;right:671.70px;text-align:right;white-space:nowrap;">1.228</div>
<div class="t" style="top:440.74px;height:20px;line-height:20px;font-size:12px;color:#303030;right:576.70px;text-align:right;white-space:nowrap;">1.247</div>
<div class="t" style="top:440.74px;height:20px;line-height:20px;font-size:12px;color:#303030;right:482.70px;text-align:right;white-space:nowrap;">31.731</div>
<div class="t" style="top:440.74px;height:20px;line-height:20px;font-size:12px;color:#303030;right:387.70px;text-align:right;white-space:nowrap;">527</div>
<div class="t" style="top:440.74px;height:20px;line-height:20px;font-size:12px;color:#303030;right:292.70px;text-align:right;white-space:nowrap;">13.442</div>
<div class="t" style="top:440.74px;height:20px;line-height:20px;font-size:12px;color:#303030;right:197.70px;text-align:right;white-space:nowrap;">20.063</div>
<div class="t" style="top:440.74px;height:20px;line-height:20px;font-size:12px;color:#303030;right:102.70px;text-align:right;white-space:nowrap;">33.505</div>
<div class="t" style="top:440.74px;height:20px;line-height:20px;font-size:12px;color:#303030;right:8.70px;text-align:right;white-space:nowrap;">159</div>
<div class="t" style="top:461.87px;height:20px;line-height:20px;font-size:10.2px;color:#111;font-weight:bold;letter-spacing:0.1px;left:-74.00px;width:300px;text-align:center;white-space:nowrap;">TOTALE</div>
<div class="t" style="top:461.42px;height:20px;line-height:20px;font-size:11.5px;color:#111;font-weight:bold;letter-spacing:0.3px;right:956.60px;text-align:right;white-space:nowrap;">10.207</div>
<div class="t" style="top:461.42px;height:20px;line-height:20px;font-size:11.5px;color:#111;font-weight:bold;letter-spacing:0.3px;right:861.60px;text-align:right;white-space:nowrap;">463</div>
<div class="t" style="top:461.42px;height:20px;line-height:20px;font-size:11.5px;color:#111;font-weight:bold;letter-spacing:0.3px;right:766.60px;text-align:right;white-space:nowrap;">53</div>
<div class="t" style="top:461.42px;height:20px;line-height:20px;font-size:11.5px;color:#111;font-weight:bold;letter-spacing:0.3px;right:671.60px;text-align:right;white-space:nowrap;">1.218.075</div>
<div class="t" style="top:461.42px;height:20px;line-height:20px;font-size:11.5px;color:#111;font-weight:bold;letter-spacing:0.3px;right:576.60px;text-align:right;white-space:nowrap;">1.228.745</div>
<div class="t" style="top:461.42px;height:20px;line-height:20px;font-size:11.5px;color:#0a3010;font-weight:bold;letter-spacing:0.3px;right:482.60px;text-align:right;white-space:nowrap;">14.015.032</div>
<div class="t" style="top:461.42px;height:20px;line-height:20px;font-size:11.5px;color:#600000;font-weight:bold;letter-spacing:0.3px;right:387.60px;text-align:right;white-space:nowrap;">161.032</div>
<div class="t" style="top:461.42px;height:20px;line-height:20px;font-size:11.5px;color:#111;font-weight:bold;letter-spacing:0.3px;right:292.60px;text-align:right;white-space:nowrap;">8.444.209</div>
<div class="t" style="top:461.42px;height:20px;line-height:20px;font-size:11.5px;color:#111;font-weight:bold;letter-spacing:0.3px;right:197.60px;text-align:right;white-space:nowrap;">6.960.600</div>
<div class="t" style="top:461.42px;height:20px;line-height:20px;font-size:11.5px;color:#111;font-weight:bold;letter-spacing:0.3px;right:102.60px;text-align:right;white-space:nowrap;">15.404.809</div>
<div class="t" style="top:461.42px;height:20px;line-height:20px;font-size:11.5px;color:#111;font-weight:bold;letter-spacing:0.3px;right:8.60px;text-align:right;white-space:nowrap;">83.643</div>
<div style="left:2px;top:339px;width:1195px;height:5px;background:#de2230;"></div>
<div style="left:2px;top:360px;width:1195px;height:5px;background:#de2230;"></div>
<div style="left:2px;top:339px;width:4px;height:26px;background:#de2230;"></div>
<div style="left:1193px;top:339px;width:4px;height:26px;background:#de2230;"></div>
<div style="left:543px;top:339px;width:4px;height:26px;background:#de2230;"></div>
<div style="left:624px;top:339px;width:4px;height:26px;background:#de2230;"></div>
</body></html>
